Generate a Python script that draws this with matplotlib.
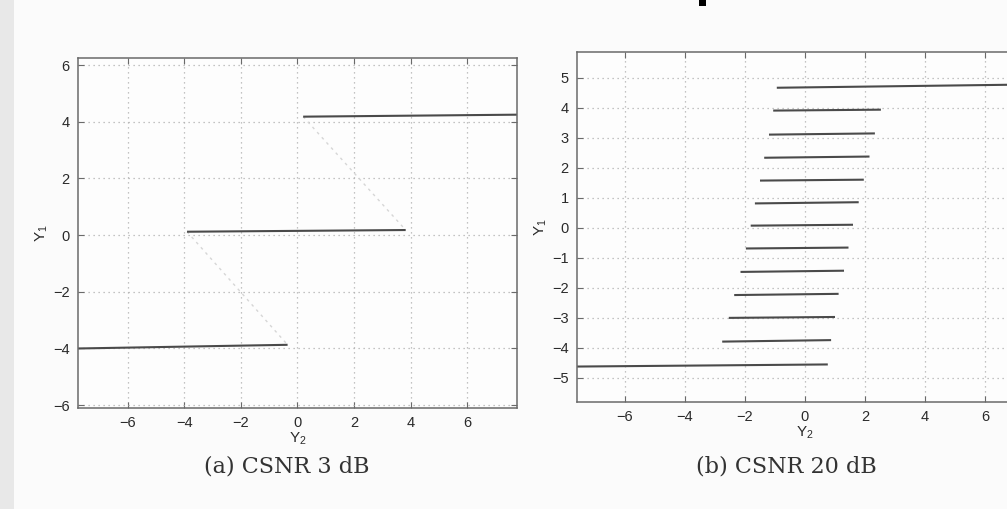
import matplotlib
matplotlib.use("Agg")
import matplotlib.pyplot as plt
from matplotlib.patches import Rectangle

# ---- data: panel (a) CSNR 3 dB ----
a_x_start = [-7.75, -3.9, 0.2]
a_x_end = [-0.35, 3.82, 7.75]
a_y_start = [-4.0, 0.12, 4.18]
a_y_end = [-3.87, 0.18, 4.25]

# ---- data: panel (b) CSNR 20 dB ----
b_x_start = [-7.6, -2.76, -2.54, -2.36, -2.15, -1.97, -1.81, -1.67, -1.5, -1.36, -1.2, -1.06, -0.94]
b_x_end = [0.76, 0.87, 1.0, 1.12, 1.3, 1.45, 1.6, 1.79, 1.96, 2.15, 2.33, 2.53, 7.6]
b_y_start = [-4.62, -3.79, -3.0, -2.24, -1.47, -0.69, 0.07, 0.81, 1.57, 2.33, 3.1, 3.9, 4.66]
b_y_end = [-4.55, -3.74, -2.97, -2.2, -1.43, -0.66, 0.1, 0.85, 1.6, 2.37, 3.14, 3.93, 4.77]

a_xticks = [-6, -4, -2, 0, 2, 4, 6]
a_yticks = [-6, -4, -2, 0, 2, 4, 6]
b_xticks = [-6, -4, -2, 0, 2, 4, 6]
b_yticks = [-5, -4, -3, -2, -1, 0, 1, 2, 3, 4, 5]

captions = ["(a) CSNR 3 dB", "(b) CSNR 20 dB"]

plt.rcParams['font.family'] = ['Liberation Sans', 'DejaVu Sans']
plt.rcParams['mathtext.default'] = 'regular'

W, H = 1007, 509
fig = plt.figure(figsize=(W / 100, H / 100), dpi=100)
fig.patch.set_facecolor('#fbfbfb')

# page-edge shadow on the left and scan mark on top
fig.patches.append(Rectangle((0, 0), 14 / W, 1, transform=fig.transFigure,
                             facecolor='#e8e8e8', edgecolor='none', zorder=0))
fig.patches.append(Rectangle((699 / W, 1 - 6 / H), 7 / W, 6 / H, transform=fig.transFigure,
                             facecolor='black', edgecolor='none', zorder=5))

line_col = '#4a4a4a'
spine_col = '#6a6a6a'
grid_col = '#b0b0b0'
text_col = '#2a2a2a'


def style(ax, xt, yt, xlim, ylim):
    ax.set_facecolor('#fdfdfd')
    ax.set_xlim(*xlim)
    ax.set_ylim(*ylim)
    ax.set_xticks(xt)
    ax.set_yticks(yt)
    ax.set_xticklabels([f"{v:d}".replace('-', '\u2212') for v in xt])
    ax.set_yticklabels([f"{v:d}".replace('-', '\u2212') for v in yt])
    ax.tick_params(direction='in', length=4, width=0.8, colors=spine_col,
                   labelcolor=text_col, labelsize=10.5, top=True, right=True, pad=6)
    for s in ax.spines.values():
        s.set_color(spine_col)
        s.set_linewidth(1.1)
    ax.grid(True, linestyle=(0, (1, 3)), color=grid_col, linewidth=0.9)
    ax.set_xlabel('Y$_2$', color=text_col, fontsize=11, labelpad=0)
    ax.set_ylabel('Y$_1$', color=text_col, fontsize=11, labelpad=2)


# ---- panel (a) ----
axa = fig.add_axes([78 / W, 1 - 408 / H, 439 / W, 350 / H])
style(axa, a_xticks, a_yticks, (-7.75, 7.75), (-6.1, 6.25))
for i in range(len(a_x_start) - 1):
    # faint transitions between levels
    axa.plot([a_x_start[i + 1], a_x_end[i]], [a_y_start[i + 1], a_y_end[i]],
             color='#d6d6d6', linewidth=1.0, linestyle=(0, (2, 3)))
for xs, xe, ys, ye in zip(a_x_start, a_x_end, a_y_start, a_y_end):
    axa.plot([xs, xe], [ys, ye], color=line_col, linewidth=1.5, solid_capstyle='butt')

# ---- panel (b) ----
axb = fig.add_axes([577 / W, 1 - 402 / H, 456 / W, 350 / H])
style(axb, b_xticks, b_yticks, (-7.6, 7.6), (-5.8, 5.85))
for xs, xe, ys, ye in zip(b_x_start, b_x_end, b_y_start, b_y_end):
    axb.plot([xs, xe], [ys, ye], color=line_col, linewidth=1.5, solid_capstyle='butt')

# ---- captions ----
fig.text(287 / W, 1 - 467 / H, captions[0], ha='center', va='center',
         fontsize=16, family=['DejaVu Serif'], color='#333333')
fig.text(786 / W, 1 - 467 / H, captions[1], ha='center', va='center',
         fontsize=16, family=['DejaVu Serif'], color='#333333')

fig.savefig('out.png', dpi=100, facecolor=fig.get_facecolor())
